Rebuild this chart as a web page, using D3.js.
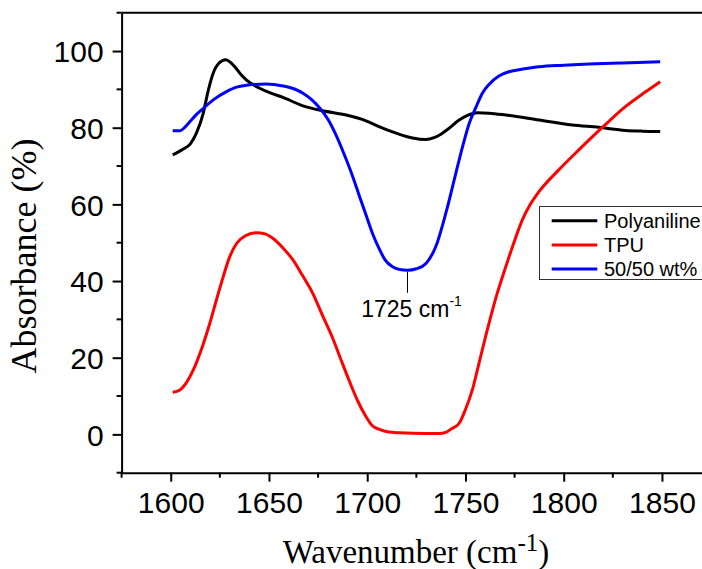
<!DOCTYPE html>
<html>
<head>
<meta charset="utf-8">
<script src="https://cdn.jsdelivr.net/npm/d3@7"></script>
<style>
  html, body { margin: 0; padding: 0; background: #fff; }
  svg { display: block; }
</style>
</head>
<body>
<svg id="chart" width="702" height="569"></svg>
<script>
// FTIR spectra, carbonyl region
const polyanilineX = [1601, 1606, 1610, 1613, 1616.5, 1619, 1621.6, 1624.5, 1628, 1630.5, 1632.6, 1635.5, 1638.6, 1645.3, 1651, 1657.1, 1667.3, 1677.4, 1689.3, 1699.4, 1706, 1712.9, 1718, 1723.1, 1729.9, 1734, 1737.5, 1741, 1746.8, 1751, 1756, 1762, 1770.5, 1787.4, 1804.3, 1817.8, 1831.4, 1840, 1849.1];
const polyanilineY = [72.9, 74.3, 75.8, 78.5, 83.7, 89.5, 94.2, 96.8, 97.7, 97.0, 95.9, 94.0, 92.4, 90.3, 89.0, 87.9, 85.7, 84.4, 83.3, 81.8, 80.3, 78.9, 78.0, 77.3, 76.9, 77.4, 78.3, 79.6, 82.0, 83.2, 83.9, 83.8, 83.3, 82.0, 80.7, 80.1, 79.3, 79.1, 79.0];

const tpuX = [1601, 1604.7, 1608, 1611.5, 1615.5, 1619.9, 1623.5, 1626.7, 1630, 1633.5, 1638, 1643.6, 1648, 1652.1, 1657, 1662.2, 1667, 1672.3, 1677, 1682.5, 1687, 1691, 1695, 1699.4, 1702.5, 1706.2, 1711, 1716.4, 1729.9, 1736.6, 1740, 1743, 1746.8, 1750, 1753.5, 1757, 1762, 1766, 1770.5, 1774.5, 1778.9, 1783, 1787.4, 1797.5, 1807.7, 1819.5, 1831.4, 1841.5, 1849.1];
const tpuY = [11.0, 11.6, 13.5, 16.8, 22.0, 29.0, 35.5, 41.1, 46.3, 49.8, 51.8, 52.6, 52.3, 51.1, 48.7, 45.5, 41.5, 36.8, 31.3, 25.0, 19.0, 13.8, 8.9, 4.6, 2.3, 1.3, 0.6, 0.4, 0.2, 0.2, 0.5, 1.5, 2.9, 6.5, 11.6, 18.8, 29.0, 36.5, 43.7, 49.8, 55.9, 60.0, 63.3, 69.0, 74.2, 80.0, 85.5, 89.3, 92.0];

const blendX = [1601, 1604.7, 1607, 1609.8, 1613, 1616.5, 1622, 1628.4, 1633, 1638.6, 1648.7, 1657.1, 1663, 1667.3, 1672, 1675.7, 1680, 1684.2, 1688, 1692.6, 1696, 1699.4, 1703, 1706.2, 1709, 1712.9, 1716.5, 1720.5, 1725, 1729.9, 1734.9, 1740, 1745.1, 1748.5, 1751.9, 1755.3, 1758.6, 1762, 1767, 1772.2, 1777.2, 1787.4, 1800, 1812.8, 1830, 1849.1];
const blendY = [79.2, 79.2, 80.0, 81.6, 83.4, 85.0, 87.4, 89.4, 90.5, 91.1, 91.4, 90.9, 90.1, 89.0, 87.2, 85.2, 82.2, 78.0, 73.4, 67.3, 62.2, 57.2, 52.0, 48.3, 45.6, 43.7, 43.0, 42.8, 43.2, 44.6, 49.0, 57.7, 68.1, 75.0, 81.1, 85.3, 89.0, 91.3, 93.5, 94.6, 95.1, 95.9, 96.3, 96.6, 96.9, 97.2];

const seriesNames = ["Polyaniline", "TPU", "50/50 wt%"];
const seriesColors = ["#000000", "#ff0000", "#0000ff"];

const xMajorTicks = [1600, 1650, 1700, 1750, 1800, 1850];
const xMinorTicks = [1575, 1625, 1675, 1725, 1775, 1825, 1875];
const yMajorTicks = [0, 20, 40, 60, 80, 100];
const yMinorTicks = [-10, 10, 30, 50, 70, 90, 110];

// peak annotation: position of the band minimum and its label
const peakX = 1720.5;
const peakLabel = "1725 cm";

const svg = d3.select("#chart");
svg.append("rect").attr("width", 702).attr("height", 569).attr("fill", "#fff");

const x = d3.scaleLinear().domain([1575, 1900]).range([121.6, 760.2]);
const y = d3.scaleLinear().domain([-10, 110]).range([472.7, 12.7]);

const sans = "'Liberation Sans', Arial, sans-serif";
const serif = "'Liberation Serif', 'Times New Roman', serif";

// curves
const line = d3.line()
  .x(d => x(d[0]))
  .y(d => y(d[1]))
  .curve(d3.curveMonotoneX);

const series = [
  d3.zip(polyanilineX, polyanilineY),
  d3.zip(tpuX, tpuY),
  d3.zip(blendX, blendY)
];

series.forEach((pts, i) => {
  svg.append("path")
    .datum(pts)
    .attr("fill", "none")
    .attr("stroke", seriesColors[i])
    .attr("stroke-width", 3)
    .attr("stroke-linejoin", "round")
    .attr("d", line);
});

// axes
const axisG = svg.append("g");

const xAxis = axisG.append("g")
  .attr("transform", `translate(0,${y(-10)})`)
  .call(d3.axisBottom(x).tickValues(xMajorTicks).tickSize(9).tickSizeOuter(0).tickPadding(10).tickFormat(d3.format("d")));
xAxis.append("g").selectAll("line").data(xMinorTicks).join("line")
  .attr("x1", d => x(d)).attr("x2", d => x(d))
  .attr("y1", 0).attr("y2", 5);

const yAxis = axisG.append("g")
  .attr("transform", `translate(${x(1575)},0)`)
  .call(d3.axisLeft(y).tickValues(yMajorTicks).tickSize(9).tickSizeOuter(0).tickPadding(9).tickFormat(d3.format("d")));
yAxis.append("g").selectAll("line").data(yMinorTicks).join("line")
  .attr("x1", 0).attr("x2", -5)
  .attr("y1", d => y(d)).attr("y2", d => y(d));

// top frame line
axisG.append("line")
  .attr("x1", x(1575)).attr("x2", 702)
  .attr("y1", y(110)).attr("y2", y(110));

axisG.selectAll("path.domain").attr("stroke", "#000").attr("stroke-width", 2);
axisG.selectAll("line").attr("stroke", "#000").attr("stroke-width", 2);
axisG.selectAll("text")
  .attr("fill", "#000")
  .style("font-family", sans)
  .style("font-size", "30px");
xAxis.selectAll(".tick text").attr("dy", "0.71em");
yAxis.selectAll(".tick text").attr("dy", "0.36em");

// axis titles
svg.append("text")
  .attr("transform", "translate(36,256) rotate(-90)")
  .attr("text-anchor", "middle")
  .style("font-family", serif)
  .style("font-size", "36px")
  .attr("fill", "#000")
  .text("Absorbance (%)");

const xt = svg.append("text")
  .attr("x", 416)
  .attr("y", 563)
  .attr("text-anchor", "middle")
  .style("font-family", serif)
  .style("font-size", "33px")
  .attr("fill", "#000");
xt.append("tspan").text("Wavenumber (cm");
xt.append("tspan").attr("dy", -12).style("font-size", "25px").text("-1");
xt.append("tspan").attr("dy", 12).text(")");

// peak annotation
const peakY = d3.min(blendY);
svg.append("line")
  .attr("x1", x(peakX)).attr("x2", x(peakX))
  .attr("y1", y(peakY) + 1.5).attr("y2", y(peakY) + 22.5)
  .attr("stroke", "#000").attr("stroke-width", 1);

const at = svg.append("text")
  .attr("x", x(peakX) + 4)
  .attr("y", 317)
  .attr("text-anchor", "middle")
  .style("font-family", sans)
  .style("font-size", "23px")
  .attr("fill", "#000");
at.append("tspan").text(peakLabel);
at.append("tspan").attr("dy", -11).style("font-size", "14px").text("-1");

// legend
const legend = svg.append("g");
legend.append("rect")
  .attr("x", 539.5).attr("y", 206.5)
  .attr("width", 175).attr("height", 73)
  .attr("fill", "#fff").attr("stroke", "#333").attr("stroke-width", 1);

seriesNames.forEach((name, i) => {
  const cy = 220.7 + i * 24.2;
  legend.append("line")
    .attr("x1", 551.7).attr("x2", 597.3)
    .attr("y1", cy).attr("y2", cy)
    .attr("stroke", seriesColors[i]).attr("stroke-width", 3);
  legend.append("text")
    .attr("x", 604).attr("y", cy + 7)
    .style("font-family", sans)
    .style("font-size", "20px")
    .attr("fill", "#000")
    .text(name);
});
</script>
</body>
</html>
